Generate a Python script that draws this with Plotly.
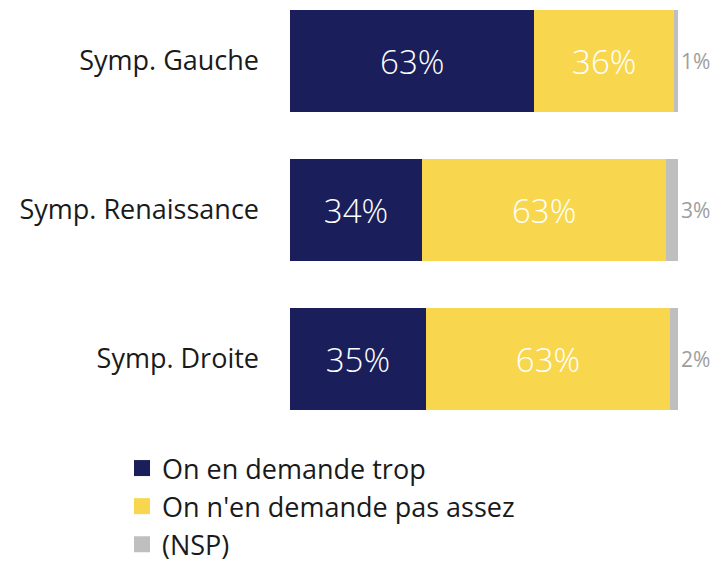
import plotly.graph_objects as go

categories = ["Symp. Gauche", "Symp. Renaissance", "Symp. Droite"]
trop = [63, 34, 35]
pas_assez = [36, 63, 63]
nsp = [1, 3, 2]
series_names = ["On en demande trop", "On n'en demande pas assez", "(NSP)"]
colors = ["#1A1F5C", "#F8D74E", "#BFBFBF"]

FONT = "Open Sans"
TXT = "#1a1a1a"
W, H = 712, 556  # page has an 8px body margin
fig = go.Figure()
for i, (name, vals, col) in enumerate(zip(series_names, [trop, pas_assez, nsp], colors)):
    inside = i < 2
    fig.add_trace(go.Bar(
        y=categories, x=vals, name=name, orientation="h",
        marker=dict(color=col, line=dict(width=0)),
        text=[f"{v}%" for v in vals],
        textposition="inside" if inside else "outside",
        insidetextanchor="middle",
        textfont=dict(family=FONT, size=33 if inside else 21,
                      color="white" if inside else "#9E9E9E",
                      weight=300 if inside else 400),
        constraintext="none",
        cliponaxis=False,
        showlegend=False,
        hoverinfo="skip",
    ))

# legend entries with larger square swatches
for i, (name, col) in enumerate(zip(series_names, colors)):
    fig.add_trace(go.Scatter(
        x=[None], y=[None], mode="markers", name=name,
        marker=dict(symbol="square", size=18, color=col),
        legendgroup=f"g{i}", showlegend=True, hoverinfo="skip",
    ))

fig.update_layout(
    width=W, height=H,
    barmode="stack",
    bargap=0.315,
    plot_bgcolor="white", paper_bgcolor="white",
    margin=dict(l=282, r=42, t=0, b=123, autoexpand=False),
    font=dict(family=FONT, size=27, color=TXT),
    xaxis=dict(range=[0, 100], visible=False, fixedrange=True, automargin=False),
    yaxis=dict(
        type="category", range=[2.550, -0.3557], automargin=False,
        showline=False, showgrid=False, zeroline=False,
        ticks="", ticklabelstandoff=30,
        tickfont=dict(family=FONT, size=27, color=TXT),
    ),
    showlegend=True,
    legend=dict(
        orientation="v", xref="container", yref="container",
        x=114 / W, y=1 - 436 / H, xanchor="left", yanchor="top",
        font=dict(family=FONT, size=27, color=TXT),
        tracegroupgap=10, traceorder="normal",
        itemsizing="trace", itemwidth=30,
    ),
)

fig.write_html("out.html")
